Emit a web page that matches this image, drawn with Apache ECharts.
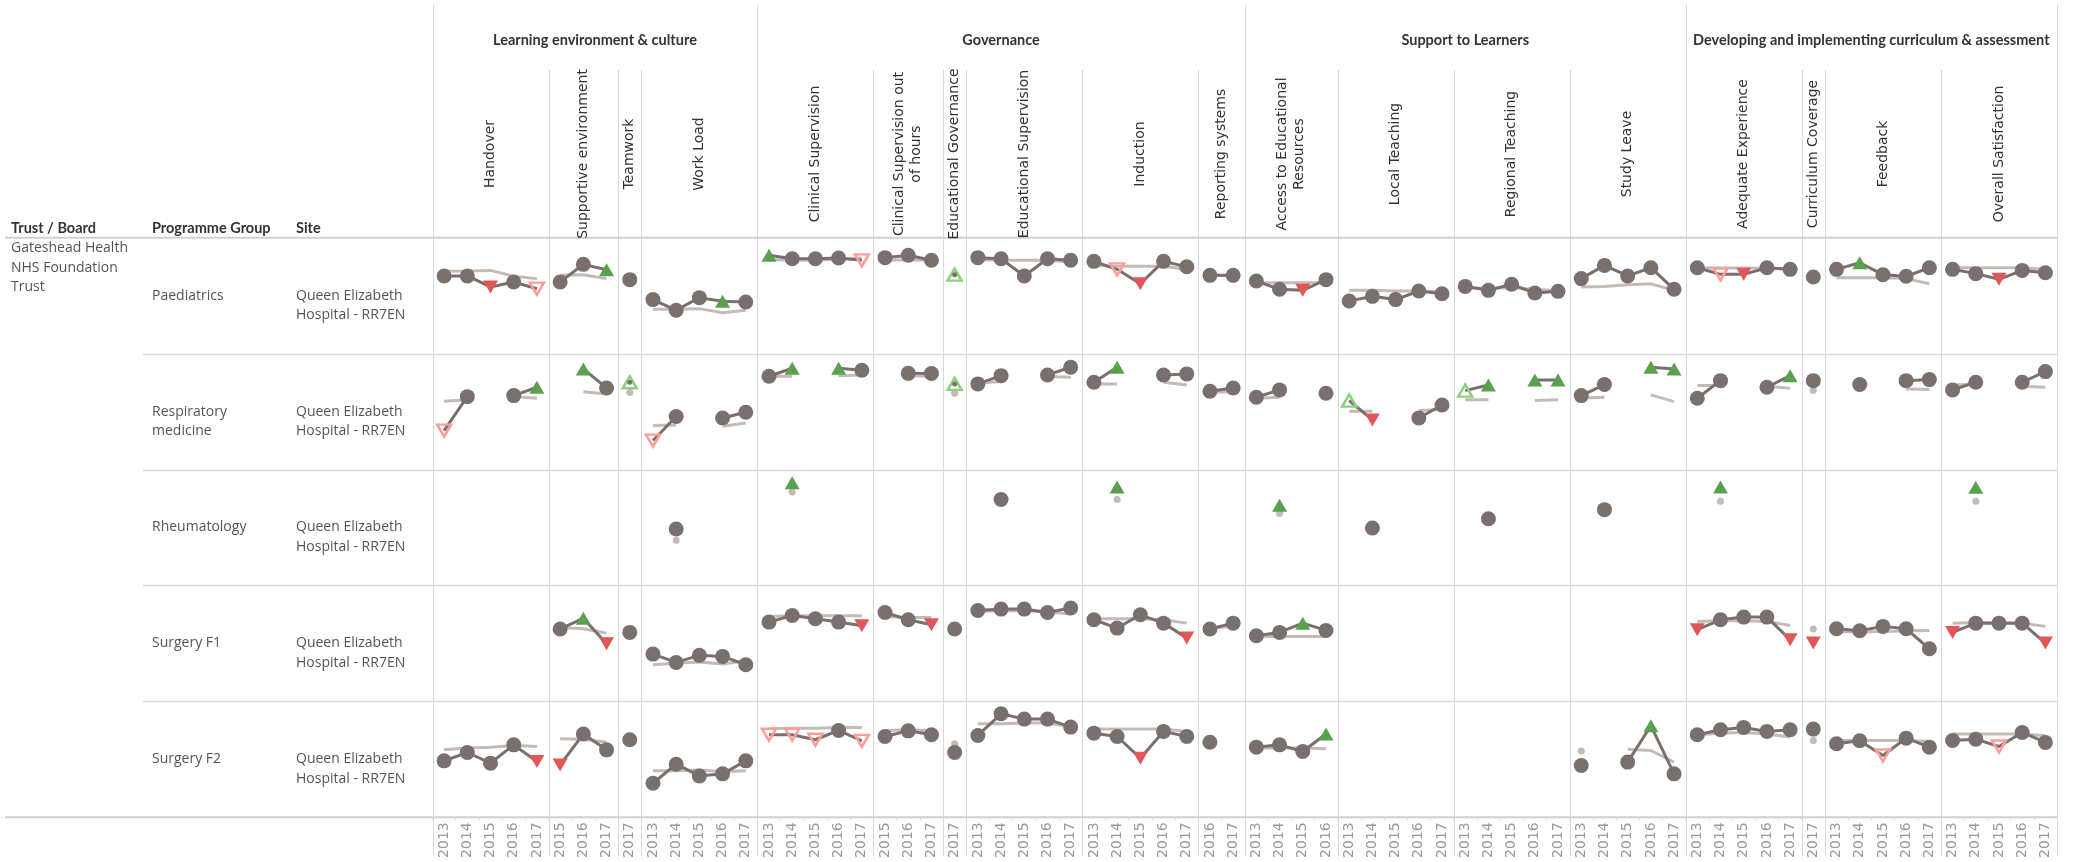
<!DOCTYPE html>
<html>
<head>
<meta charset="utf-8">
<title>Trainee survey trends</title>
<script src="https://cdn.jsdelivr.net/npm/echarts@6.0.0/dist/echarts.min.js"></script>
<style>
  html, body { margin: 0; padding: 0; background: #fff; }
  #main { width: 2081px; height: 862px; }
</style>
</head>
<body>
<div id="main"></div>
<script>
// column headers
var groups = ['Learning environment & culture', 'Governance', 'Support to Learners',
  'Developing and implementing curriculum & assessment'];
var measures = ['Handover', 'Supportive environment', 'Teamwork', 'Work Load', 'Clinical Supervision',
  'Clinical Supervision out\nof hours', 'Educational Governance', 'Educational Supervision', 'Induction',
  'Reporting systems', 'Access to Educational\nResources', 'Local Teaching', 'Regional Teaching',
  'Study Leave', 'Adequate Experience', 'Curriculum Coverage', 'Feedback', 'Overall Satisfaction'];
var measureGroup = [0, 0, 0, 0, 1, 1, 1, 1, 1, 1, 2, 2, 2, 2, 3, 3, 3, 3];
var Y5 = ['2013', '2014', '2015', '2016', '2017'];
var measureYears = [Y5, ['2015', '2016', '2017'], ['2017'], Y5, Y5, ['2015', '2016', '2017'], ['2017'],
  Y5, Y5, ['2016', '2017'], ['2013', '2014', '2015', '2016'], Y5, Y5, Y5, Y5, ['2017'], Y5, Y5];

// row headers
var trustName = 'Gateshead Health\nNHS Foundation\nTrust';
var programmes = ['Paediatrics', 'Respiratory\nmedicine', 'Rheumatology', 'Surgery F1', 'Surgery F2'];
var siteName = 'Queen Elizabeth\nHospital - RR7EN';

// flags: n = within, U = above, D = below, u = light above, d = light below, - = none
var paedScore = [
  [67.0, 67.0, 57.5, 61.8, 56.0], [61.8, 77.0, 72.4], [63.8], [46.6, 37.4, 48.3, 45.1, 44.5],
  [84.8, 81.9, 81.9, 82.5, 80.5], [82.8, 84.8, 80.5], [68.1], [82.8, 81.9, 67.0, 81.9, 80.5],
  [79.6, 72.7, 60.3, 79.6, 75.0], [67.5, 67.5], [62.6, 55.5, 54.6, 63.8], [45.4, 49.4, 46.6, 54.0, 51.7],
  [58.0, 54.6, 59.8, 52.3, 53.7], [64.7, 76.1, 67.0, 74.1, 55.5], [74.1, 68.4, 68.4, 74.1, 72.7], [66.1],
  [72.7, 78.4, 68.1, 66.7, 74.1], [72.7, 69.0, 64.1, 71.8, 69.8]
];
var paedBench = [
  [71.0, 71.3, 71.8, 66.7, 64.7], [67.5, 68.1, 64.7], [63.8], [38.2, 38.2, 38.8, 35.3, 37.4],
  [81.3, 80.5, 80.7, 81.3, 82.5], [80.5, 81.0, 80.5], [null], [81.0, 80.5, 80.5, 80.5, 79.0],
  [76.1, 75.3, 75.3, 75.3, 72.7], [67.5, 67.2], [61.2, 61.2, 61.2, 61.2], [54.6, 54.6, 54.0, 54.0, 53.2],
  [56.6, 56.6, 56.6, 55.5, 54.3], [57.5, 58.0, 59.5, 60.3, 54.6], [73.9, 73.9, 73.9, 73.6, 72.7], [66.1],
  [65.5, 65.5, 65.5, 64.7, 60.3], [74.1, 74.1, 74.1, 74.1, 72.7]
];
var paedFlag = ['nnDnd', 'nnU', 'n', 'nnnUn', 'Unnnd', 'nnn', 'u', 'nnnnn', 'ndDnn', 'nn', 'nnDn',
  'nnnnn', 'nnnnn', 'nnnnn', 'ndDnn', 'n', 'nUnnn', 'nnDnn'];

var respScore = [
  [33.6, 62.9, null, 63.8, 71.0], [null, 86.8, 70.4], [75.3], [25.0, 45.7, null, 44.5, 49.4],
  [80.5, 87.4, null, 87.4, 85.6], [null, 83.0, 82.8], [73.9], [73.9, 81.0, null, 81.6, 88.2],
  [75.3, 88.2, null, 81.6, 82.5], [67.5, 70.4], [62.4, 68.7, null, 65.8], [59.5, 42.8, null, 44.5, 55.7],
  [68.1, 73.0, null, 77.3, 77.3], [63.8, 73.3, null, 88.2, 86.8], [61.5, 76.7, null, 71.0, 81.0], [76.7],
  [null, 73.3, null, 76.7, 77.6], [68.7, 75.3, null, 75.3, 84.5]
];
var respBench = [
  [58.9, 60.1, null, 62.9, 61.5], [null, 67.2, 65.2], [66.4], [37.9, 38.5, null, 37.4, 40.2],
  [80.5, 80.5, null, 81.0, 81.6], [null, 81.0, 80.5], [65.8], [74.5, 76.0, null, 80.2, 79.6],
  [73.9, 73.9, null, 75.3, 73.0], [66.7, 67.2], [61.5, 62.4, null, 65.2], [50.3, 50.3, null, 50.9, 51.7],
  [60.1, 60.1, null, 59.5, 60.1], [61.8, 62.4, null, 64.4, 58.6], [72.4, 72.4, null, 71.8, 70.1], [68.1],
  [null, 73.0, null, 69.5, 69.0], [73.0, 73.9, null, 71.8, 71.0]
];
var respFlag = ['dn-nU', '-Un', 'u', 'dn-nn', 'nU-Un', '-nn', 'u', 'nn-nn', 'nU-nn', 'nn', 'nn-n',
  'uD-nn', 'uU-UU', 'nn-UU', 'nn-nU', 'n', '-n-nn', 'nn-nn'];

var rheuScore = [
  [], [], [], [null, 48.7, null, null, null], [null, 88.5, null, null, null], [], [],
  [null, 74.1, null, null, null], [null, 85.0, null, null, null], [], [null, 69.2, null, null],
  [null, 49.6, null, null, null], [null, 57.6, null, null, null], [null, 65.4, null, null, null],
  [null, 85.0, null, null, null], [], [], [null, 84.7, null, null, null]
];
var rheuBench = [
  [], [], [], [null, 38.9, null, null, null], [null, 80.7, null, null, null], [], [],
  [null, 77.0, null, null, null], [null, 74.1, null, null, null], [], [null, 62.0, null, null],
  [null, 49.6, null, null, null], [null, 57.6, null, null, null], [null, 65.4, null, null, null],
  [null, 72.6, null, null, null], [], [], [null, 72.6, null, null, null]
];
var rheuFlag = ['', '', '', '-n---', '-U---', '', '', '-n---', '-U---', '', '-U--', '-n---', '-n---',
  '-n---', '-U---', '', '', '-U---'];

var surg1Score = [
  [], [62.4, 71.8, 49.7], [59.5], [40.8, 33.6, 39.7, 38.8, 31.6], [68.4, 74.1, 71.3, 68.4, 65.2],
  [76.7, 70.4, 66.1], [62.4], [78.4, 79.6, 79.6, 76.7, 80.5], [70.4, 63.2, 74.7, 67.5, 54.6],
  [62.4, 67.5], [56.6, 59.5, 67.5, 61.2], [], [], [], [61.8, 70.4, 72.7, 72.7, 53.2], [50.3],
  [62.6, 60.9, 64.7, 62.6, 45.4], [59.5, 67.5, 67.5, 67.5, 50.3]
];
var surg1Bench = [
  [], [63.8, 62.6, 58.9], [59.5], [31.6, 33.0, 33.9, 32.2, 35.0], [73.3, 73.9, 73.9, 73.9, 73.9],
  [73.3, 72.4, 72.4], [62.4], [77.6, 78.2, 78.2, 77.0, 75.3], [71.3, 71.3, 71.3, 70.4, 67.5],
  [63.2, 64.7], [56.0, 56.0, 56.0, 56.0], [], [], [], [69.0, 69.5, 69.5, 69.0, 65.5], [62.4],
  [60.3, 59.8, 60.3, 60.9, 61.2], [67.5, 68.1, 68.1, 67.5, 64.7]
];
var surg1Flag = ['', 'nUD', 'n', 'nnnnn', 'nnnnD', 'nnD', 'n', 'nnnnn', 'nnnnD', 'nn', 'nnUn', '', '', '',
  'DnnnD', 'D', 'nnnnn', 'DnnnD'];

var surg2Score = [
  [48.7, 55.9, 46.7, 62.5, 48.1], [45.2, 71.8, 58.2], [66.9], [29.4, 45.8, 35.7, 37.5, 48.7],
  [71.2, 71.2, 66.9, 74.9, 66.0], [69.7, 74.6, 71.2], [55.9], [70.6, 89.3, 84.7, 84.7, 77.8],
  [72.6, 69.7, 51.0, 74.1, 69.7], [64.8, null], [60.5, 62.5, 56.8, 71.8], [], [],
  [44.7, null, 47.6, 79.0, 37.5], [71.2, 75.5, 77.5, 74.1, 75.5], [76.1],
  [63.4, 66.0, 53.3, 68.3, 60.5], [66.3, 67.4, 61.1, 73.2, 64.6]
];
var surg2Bench = [
  [58.2, 59.7, 60.5, 62.0, 61.1], [67.7, 67.4, 64.8], [66.9], [40.1, 40.1, 40.9, 39.5, 40.1],
  [76.4, 76.9, 76.9, 77.5, 77.5], [74.9, 75.5, 74.9], [63.4], [80.7, 80.7, 81.3, 81.3, 78.4],
  [76.1, 76.1, 76.1, 76.1, 74.1], [64.8, null], [59.7, 59.7, 59.7, 59.1], [], [],
  [57.3, null, 58.8, 57.6, 47.6], [71.2, 72.6, 73.2, 71.8, 69.2], [66.3],
  [66.3, 66.3, 66.3, 66.3, 65.4], [71.8, 71.8, 71.8, 71.8, 70.3]
];
var surg2Flag = ['nnnnD', 'Dnn', 'n', 'nnnnn', 'dddnd', 'nnn', 'n', 'nnnnn', 'nnDnn', 'n-', 'nnnU', '', '',
  'n-nUn', 'nnnnn', 'n', 'nndnn', 'nndnn'];

var rowScores = [paedScore, respScore, rheuScore, surg1Score, surg2Score];
var rowBench = [paedBench, respBench, rheuBench, surg1Bench, surg2Bench];
var rowFlags = [paedFlag, respFlag, rheuFlag, surg1Flag, surg2Flag];

// layout
var plotLeft = 432.5, plotRight = 2057, rowTop = 237.7, rowH = 115.92;
var totalYears = 0;
measureYears.forEach(function (y) { totalYears += y.length; });
var yearW = (plotRight - plotLeft) / totalYears;
var colX = [], acc = 0;
measureYears.forEach(function (y) { colX.push(plotLeft + acc * yearW); acc += y.length; });
colX.push(plotRight);

var DARK = '#79706e', BENCH = '#c4bbb7', GRID = '#d9d9d9';

function markerFor(f) {
  if (f === 'U') return { symbol: 'triangle', symbolSize: [15, 13], itemStyle: { color: '#59a14f' } };
  if (f === 'D') return { symbol: 'triangle', symbolSize: [15, 13], symbolRotate: 180, itemStyle: { color: '#e15759' } };
  if (f === 'u') return { symbol: 'triangle', symbolSize: [14, 12],
    itemStyle: { color: 'rgba(255,255,255,0)', borderColor: '#8cd17d', borderWidth: 2.5 } };
  if (f === 'd') return { symbol: 'triangle', symbolSize: [14, 12], symbolRotate: 180,
    itemStyle: { color: 'rgba(255,255,255,0)', borderColor: '#ff9d9a', borderWidth: 2.5 } };
  return { symbol: 'circle', symbolSize: 15, itemStyle: { color: DARK } };
}
function isNum(v) { return v !== null && v !== undefined; }

var grids = [], xAxes = [], yAxes = [], series = [];
for (var r = 0; r < 5; r++) {
  for (var c = 0; c < measures.length; c++) {
    var gi = grids.length;
    var yrs = measureYears[c];
    var bottom = r === 4;
    grids.push({ left: colX[c], top: rowTop + r * rowH, width: yrs.length * yearW, height: rowH });
    xAxes.push({
      gridIndex: gi, type: 'category', data: yrs, boundaryGap: true,
      axisLine: { show: false }, splitLine: { show: false },
      axisTick: { show: bottom, length: 3, interval: 0, lineStyle: { color: '#e2e2e2' } },
      axisLabel: { show: bottom, rotate: 90, interval: 0, margin: 5, color: '#999',
        fontSize: 14, fontFamily: 'DejaVu Sans' }
    });
    yAxes.push({ gridIndex: gi, type: 'value', min: 0, max: 100, show: false });

    var sc = rowScores[r][c], bn = rowBench[r][c], fl = rowFlags[r][c];
    if (!sc || sc.length === 0) continue;

    var benchData = yrs.map(function (y, i) {
      var v = bn[i];
      if (!isNum(v)) return null;
      var iso = !isNum(bn[i - 1]) && !isNum(bn[i + 1]);
      return { value: v, symbol: iso ? 'circle' : 'none', symbolSize: 7 };
    });
    series.push({
      type: 'line', xAxisIndex: gi, yAxisIndex: gi, data: benchData, silent: true, clip: false,
      symbol: 'circle', showSymbol: true, showAllSymbol: true, z: 2,
      lineStyle: { color: BENCH, width: 3 }, itemStyle: { color: BENCH }
    });

    var dotData = [];
    var trustData = yrs.map(function (y, i) {
      var v = sc[i];
      if (!isNum(v)) { dotData.push(null); return null; }
      var f = fl.charAt(i);
      var iso = !isNum(sc[i - 1]) && !isNum(sc[i + 1]);
      dotData.push(iso && (f === 'u' || f === 'd') ? { value: v, symbol: 'circle', symbolSize: 5 } : null);
      var m = markerFor(f);
      m.value = v;
      return m;
    });
    series.push({
      type: 'line', xAxisIndex: gi, yAxisIndex: gi, data: trustData, silent: true, clip: false,
      symbol: 'circle', symbolSize: 15, showSymbol: true, showAllSymbol: true, z: 3,
      lineStyle: { color: DARK, width: 3 }, itemStyle: { color: DARK }
    });
    if (dotData.some(isNum)) {
      series.push({
        type: 'line', xAxisIndex: gi, yAxisIndex: gi, data: dotData, silent: true, clip: false,
        symbol: 'circle', showSymbol: true, z: 4, lineStyle: { width: 0 }, itemStyle: { color: DARK }
      });
    }
  }
}

// frame lines and header texts
var elements = [];
function line(x1, y1, x2, y2, color, w) {
  elements.push({ type: 'line', silent: true, z: 1,
    shape: { x1: x1, y1: y1, x2: x2, y2: y2 }, style: { stroke: color, lineWidth: w } });
}
function text(str, x, y, font, color, opt) {
  opt = opt || {};
  elements.push({ type: 'text', silent: true, z: 5, x: x, y: y, rotation: opt.rotation || 0,
    style: { text: str, fill: color, font: font, lineHeight: opt.lineHeight || 18,
      align: opt.align || 'left', textAlign: opt.align || 'left',
      verticalAlign: opt.valign || 'middle', textVerticalAlign: opt.valign || 'middle' } });
}

for (var k = 0; k <= measures.length; k++) {
  var x = Math.round(colX[k]) + 0.5;
  var groupEdge = k === 0 || k === measures.length || measureGroup[k] !== measureGroup[k - 1];
  line(x, groupEdge ? 5 : 70, x, 856, GRID, 1);
}
line(5, rowTop, plotRight, rowTop, '#d0d0d0', 2);
for (var rr = 1; rr < 5; rr++) {
  var yy = Math.round(rowTop + rr * rowH) + 0.5;
  line(143, yy, plotRight, yy, GRID, 1.5);
}
line(5, rowTop + 5 * rowH, plotRight, rowTop + 5 * rowH, '#d0d0d0', 2);

var HEAD = 'bold 14.5px Lato';
var MEAS = '14px "DejaVu Sans"';
var BODY = '14px "Open Sans"';

// group titles
groups.forEach(function (g, gi2) {
  var first = measureGroup.indexOf(gi2), last = measureGroup.lastIndexOf(gi2);
  text(g, (colX[first] + colX[last + 1]) / 2, 40, HEAD, '#333', { align: 'center' });
});
// measure titles, rotated
measures.forEach(function (m, i) {
  text(m, (colX[i] + colX[i + 1]) / 2, 154, MEAS, '#333',
    { align: 'center', rotation: Math.PI / 2, lineHeight: 17 });
});
// left headers
text('Trust / Board', 11, 228.7, HEAD, '#333');
text('Programme Group', 152, 228.7, HEAD, '#333');
text('Site', 296, 228.7, HEAD, '#333');
text(trustName, 11, 248.4 - 9.75, BODY, '#555', { valign: 'top', lineHeight: 19.5 });
programmes.forEach(function (p, i) {
  var cy = rowTop + i * rowH + rowH / 2;
  text(p, 152, cy - 9.75, BODY, '#555', { valign: 'top', lineHeight: 19.5 });
  text(siteName, 296, cy - 9.75, BODY, '#555', { valign: 'top', lineHeight: 19.5 });
});

var myChart = echarts.init(document.getElementById('main'));
myChart.setOption({
  animation: false,
  backgroundColor: '#fff',
  grid: grids,
  xAxis: xAxes,
  yAxis: yAxes,
  series: series,
  graphic: { elements: elements }
});
</script>
</body>
</html>
